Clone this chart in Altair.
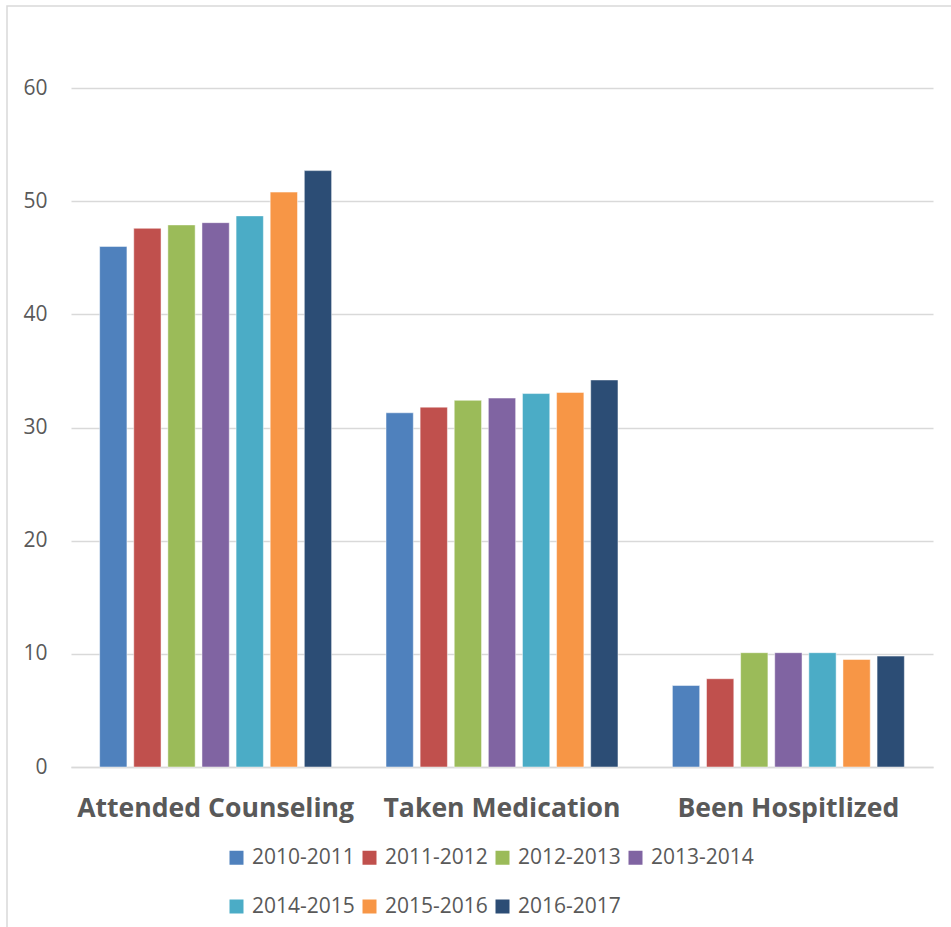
import altair as alt
import pandas as pd

categories = ["Attended Counseling", "Taken Medication", "Been Hospitlized"]
years = ["2010-2011", "2011-2012", "2012-2013", "2013-2014", "2014-2015", "2015-2016", "2016-2017"]
colors = ["#4f81bd", "#c0504d", "#9bbb59", "#8064a2", "#4bacc6", "#f79646", "#2c4d75"]
counseling = [46.0, 47.6, 47.9, 48.1, 48.7, 50.8, 52.7]
medication = [31.3, 31.8, 32.4, 32.6, 33.0, 33.1, 34.2]
hospitalized = [7.2, 7.8, 10.1, 10.1, 10.1, 9.5, 9.8]
y_ticks = [0, 10, 20, 30, 40, 50, 60]

rows = []
for cat, vals in zip(categories, [counseling, medication, hospitalized]):
    for yr, v in zip(years, vals):
        rows.append({"category": cat, "year": yr, "value": v})
df = pd.DataFrame(rows)

FONT = "Open Sans"
GREY = "#595959"

bars = alt.Chart(df).mark_bar(stroke="white", strokeWidth=0.8, strokeOpacity=0.6).encode(
    x=alt.X("category:N", sort=categories, title=None,
            scale=alt.Scale(paddingInner=0.19, paddingOuter=0.1),
            axis=alt.Axis(labelAngle=0, labelFont=FONT, labelFontWeight="bold",
                          labelFontSize=26.6, labelColor=GREY, labelPadding=28,
                          labelLimit=0, ticks=False, domain=True,
                          domainColor="#d9d9d9", domainWidth=1.5, grid=False)),
    xOffset=alt.XOffset("year:N", sort=years,
                        scale=alt.Scale(paddingInner=0.2, paddingOuter=0)),
    y=alt.Y("value:Q", title=None,
            scale=alt.Scale(domain=[0, 60], nice=False),
            axis=alt.Axis(values=y_ticks, labelFont=FONT, labelFontSize=21,
                          labelColor=GREY, labelPadding=24, ticks=False,
                          domain=False, grid=True, gridColor="#d9d9d9",
                          gridWidth=1.5)),
    color=alt.Color("year:N", sort=years,
                    scale=alt.Scale(domain=years, range=colors),
                    legend=alt.Legend(title=None, orient="none", legendX=155,
                                      legendY=759, direction="horizontal",
                                      columns=4, symbolType="square",
                                      symbolSize=196, symbolStrokeWidth=0,
                                      labelFont=FONT, labelFontSize=21,
                                      labelColor=GREY, labelOffset=5,
                                      columnPadding=4, rowPadding=27)),
)

frame = alt.Chart(pd.DataFrame({"k": [0]})).mark_rect(
    fill=None, stroke="#d9d9d9", strokeWidth=1.5
).encode(
    x=alt.value(-64), x2=alt.value(900), y=alt.value(-82), y2=alt.value(900)
)

chart = alt.layer(frame, bars).properties(
    width=862, height=679,
    padding={"left": 71, "top": 88, "right": 18, "bottom": 160},
    autosize=alt.AutoSizeParams(type="none"),
    background="white",
).configure_view(stroke=None)

chart.save("out.html", embed_options={"renderer": "svg", "actions": False})
